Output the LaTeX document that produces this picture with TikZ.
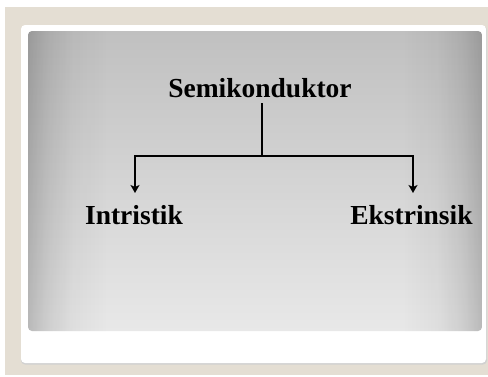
\documentclass[tikz,border=0pt]{standalone}
\usepackage{fontspec}
\setmainfont{Liberation Serif}
\usetikzlibrary{arrows.meta}
\definecolor{beige}{HTML}{E4DED3}
\definecolor{ptop}{HTML}{C0C0C0}
\definecolor{pbot}{HTML}{E8E8E8}
\definecolor{hA}{HTML}{CCCCCC}
\definecolor{hB}{HTML}{D9D9D9}
\definecolor{hC}{HTML}{E5E5E5}
\definecolor{hD}{HTML}{F6F6F6}
\pgfdeclarehorizontalshading{edgeshade}{100bp}{color(0bp)=(hA); color(25bp)=(hA); color(26.1bp)=(hB); color(27.3bp)=(hC); color(30bp)=(hD); color(33.8bp)=(white); color(66.2bp)=(white); color(70bp)=(hD); color(72.7bp)=(hC); color(73.9bp)=(hB); color(75bp)=(hA); color(100bp)=(hA)}
\tikzset{
  lbl/.style={font=\bfseries\fontsize{27.5}{30}\selectfont, inner sep=0pt, anchor=base},
  conn/.style={line width=2pt, -{Stealth[length=8pt,width=9pt,inset=2pt]}},
  trunk/.style={line width=2pt}
}
\begin{document}
\begin{tikzpicture}[x=1pt,y=-1pt]
\useasboundingbox (0,0) rectangle (488,376);
\fill[white] (0,0) rectangle (488,376);
\fill[beige] (5,7) rectangle (488,375);
% card with shadow
\fill[black!18, rounded corners=4pt] (21,26) rectangle (487,364.5);
\fill[white, rounded corners=4pt] (21,25) rectangle (486,363);
% gradient panel
\shade[top color=ptop, bottom color=pbot, rounded corners=4pt] (28,31) rectangle (482,331);
\begin{scope}[blend mode=multiply]
  \shade[shading=edgeshade, rounded corners=4pt] (28,31) rectangle (482,331);
\end{scope}
% texts
\node[lbl] (s) at (260,97) {Semikonduktor};
\node[lbl] (i) at (134,224) {Intristik};
\node[lbl] (e) at (411.5,224) {Ekstrinsik};
\coordinate (j) at (262,156);
\draw[trunk] (262,103) -- (j);
\draw[conn] (j) -- (135,156) -- (135,193);
\draw[conn] (j) -- (413,156) -- (413,193);
\end{tikzpicture}
\end{document}
